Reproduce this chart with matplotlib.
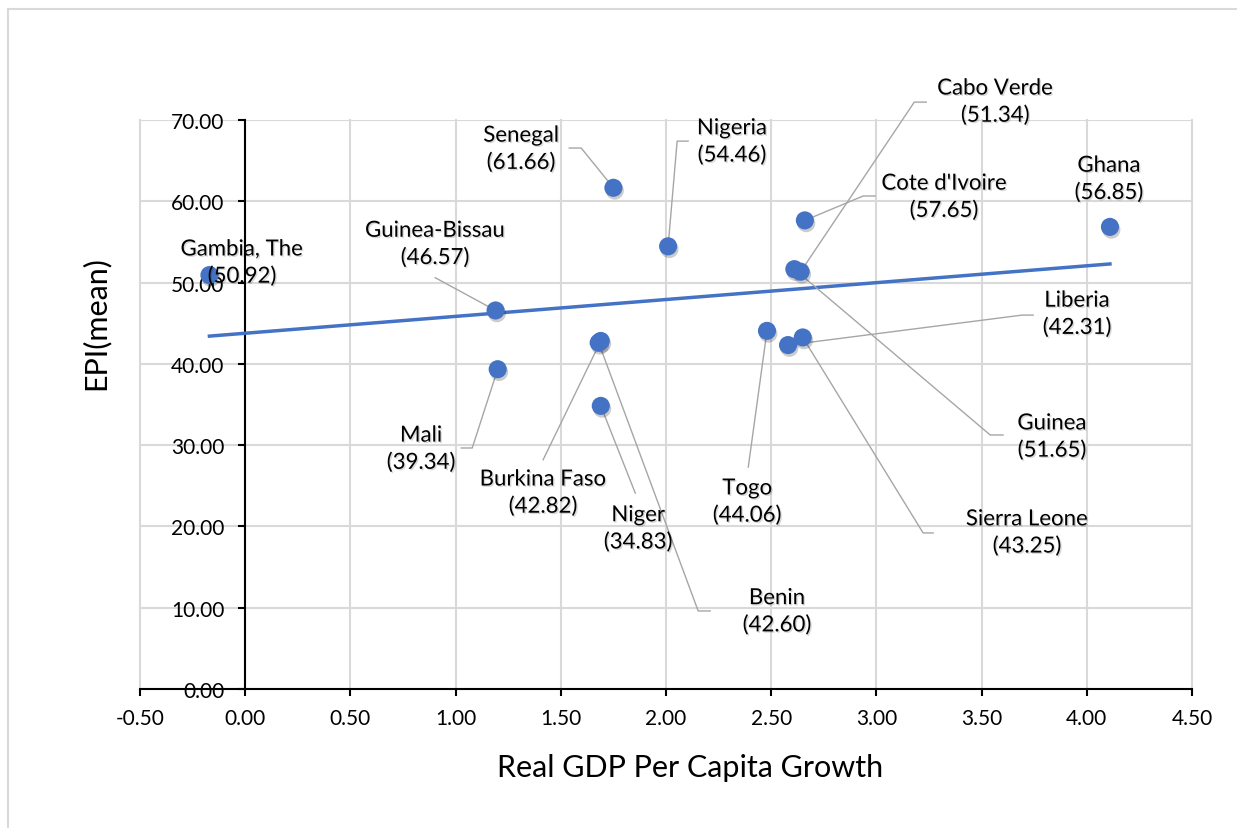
import numpy as np
import matplotlib
matplotlib.use("Agg")
import matplotlib.pyplot as plt
import matplotlib.patheffects as pe
from matplotlib.patches import Rectangle

# data
countries = ["Gambia, The", "Guinea-Bissau", "Mali", "Senegal", "Nigeria",
             "Burkina Faso", "Benin", "Niger", "Togo", "Liberia",
             "Sierra Leone", "Cote d'Ivoire", "Guinea", "Cabo Verde", "Ghana"]
gdp_growth = [-0.17, 1.19, 1.20, 1.75, 2.01,
              1.69, 1.68, 1.69, 2.48, 2.58,
              2.65, 2.66, 2.61, 2.64, 4.11]
epi_mean = [50.92, 46.57, 39.34, 61.66, 54.46,
            42.82, 42.60, 34.83, 44.06, 42.31,
            43.25, 57.65, 51.65, 51.34, 56.85]

x_ticks = [-0.5, 0, 0.5, 1, 1.5, 2, 2.5, 3, 3.5, 4, 4.5]
y_ticks = [0, 10, 20, 30, 40, 50, 60, 70]

# label placement: text centre and leader elbow (data coords)
label_layout = {
    "Gambia, The":   ((-0.015, 52.4), []),
    "Guinea-Bissau": ((0.903, 54.7), [(0.903, 50.6)]),
    "Mali":          ((0.836, 29.5), [(1.027, 29.65), (1.079, 29.65)]),
    "Senegal":       ((1.312, 66.4), [(1.540, 66.55), (1.597, 66.55)]),
    "Nigeria":       ((2.314, 67.3), [(2.105, 67.4), (2.053, 67.4)]),
    "Burkina Faso":  ((1.416, 24.1), [(1.416, 28.2)]),
    "Benin":         ((2.528, 9.5), [(2.210, 9.6), (2.153, 9.6)]),
    "Niger":         ((1.868, 19.7), [(1.854, 24.1)]),
    "Togo":          ((2.386, 23.0), [(2.391, 27.3)]),
    "Liberia":       ((3.954, 46.1), [(3.745, 46.0), (3.693, 46.0)]),
    "Sierra Leone":  ((3.716, 19.2), [(3.270, 19.2), (3.222, 19.2)]),
    "Cote d'Ivoire": ((3.322, 60.5), [(2.994, 60.65), (2.937, 60.65)]),
    "Guinea":        ((3.835, 31.0), [(3.602, 31.25), (3.541, 31.25)]),
    "Cabo Verde":    ((3.565, 72.2), [(3.237, 72.2), (3.180, 72.2)]),
    "Ghana":         ((4.106, 62.7), []),
}

plt.rcParams['font.family'] = ['Lato', 'DejaVu Sans']

blue = "#4472C4"
grid_col = "#d9d9d9"
lead_col = "#a6a6a6"

fig = plt.figure(figsize=(12.37, 8.29), dpi=100)
W, H = 1237, 829
ax = fig.add_axes([140 / W, (H - 690) / H, (1192 - 140) / W, (690 - 121) / H])

ax.set_xlim(-0.5, 4.5)
ax.set_ylim(0, 70)
ax.set_xticks(x_ticks)
ax.set_yticks(y_ticks)
ax.set_xticklabels([f"{v:.2f}" for v in x_ticks])
ax.set_yticklabels([f"{v:.2f}" for v in y_ticks])

ax.grid(True, color=grid_col, linewidth=1.5, zorder=0)
ax.set_axisbelow(True)
for gl in ax.get_xgridlines() + ax.get_ygridlines():
    gl.set_clip_on(False)

ax.spines['left'].set_position(('data', 0))
ax.spines['left'].set_linewidth(1.5)
ax.spines['bottom'].set_linewidth(1.5)
ax.spines['top'].set_visible(False)
ax.spines['right'].set_visible(False)
ax.tick_params(axis='both', direction='out', length=5, width=1.5,
               labelsize=15, colors='black')
ax.tick_params(axis='y', pad=10)
ax.tick_params(axis='x', pad=9)

# trend line
coef = np.polyfit(gdp_growth, epi_mean, 1)
tx = np.array([min(gdp_growth), max(gdp_growth)])
ax.plot(tx, np.polyval(coef, tx), color=blue, linewidth=2.5, zorder=3)

# leader lines
pts = dict(zip(countries, zip(gdp_growth, epi_mean)))
for name in countries:
    (lx, ly), elbow = label_layout[name]
    if elbow:
        path = elbow + [pts[name]]
        ax.plot([p[0] for p in path], [p[1] for p in path], color=lead_col,
                linewidth=1.0, zorder=4, clip_on=False)

# points
ax.scatter(gdp_growth, epi_mean, s=170, color=blue, edgecolors='none', zorder=5,
           path_effects=[pe.SimplePatchShadow(offset=(1, -2), shadow_rgbFace='black', alpha=0.2),
                         pe.Normal()])

# labels
for name, val in zip(countries, epi_mean):
    (lx, ly), _ = label_layout[name]
    ax.text(lx, ly, f"{name}\n({val:.2f})", ha='center', va='center',
            fontsize=16, linespacing=1.45, zorder=6, clip_on=False,
            path_effects=[pe.SimplePatchShadow(offset=(1, -1), alpha=0.15), pe.Normal()])

fig.text(690 / W, 1 - 768 / H, "Real GDP Per Capita Growth", ha='center', va='center', fontsize=22)
fig.text(95 / W, 1 - 323 / H, "EPI(mean)", ha='center', va='center', fontsize=22, rotation=90)

# chart frame (only left and top edges fall inside the image)
fig.patches.append(Rectangle((8 / W, -0.1), 1.2, 1.1 - 10 / H, transform=fig.transFigure,
                             fill=False, edgecolor=grid_col, linewidth=1.5))

fig.savefig("out.png", dpi=100)
